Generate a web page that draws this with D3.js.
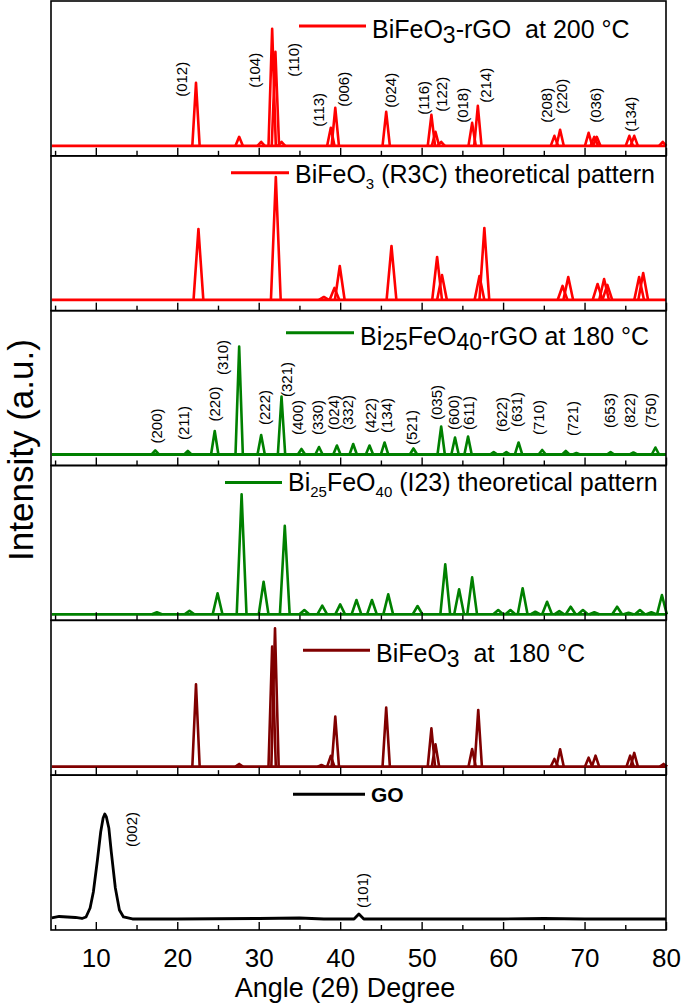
<!DOCTYPE html>
<html>
<head>
<meta charset="utf-8">
<title></title>
<script src="https://d3js.org/d3.v7.min.js"></script>
<style>
  body { margin: 0; background: #fff; }
  text { font-family: "Liberation Sans", Arial, sans-serif; }
</style>
</head>
<body>
<svg width="685" height="1004" id="chart"></svg>
<script>
// 2θ axis ticks
var majorTicks = [10, 20, 30, 40, 50, 60, 70, 80];
var minorTicks = [5, 15, 25, 35, 45, 55, 65, 75];

// peaks: [2θ, intensity]
var bfoRgoPeaks = [[22.3, 63], [27.6, 9], [30.3, 4], [31.65, 117], [32.05, 94], [32.8, 4],
  [38.85, 18], [39.4, 38], [45.65, 34], [51.2, 31], [51.7, 14], [52.4, 4], [56.2, 23],
  [56.9, 40], [66.3, 10], [67.0, 16], [70.5, 13], [71.2, 9], [71.5, 9], [75.5, 10],
  [76.1, 10], [79.6, 4]];
var bfoTheoryPeaks = [[22.6, 71], [32.1, 123], [38.0, 3], [39.3, 12], [39.95, 34], [46.3, 54],
  [51.9, 43], [52.5, 25], [57.1, 24], [57.7, 72], [67.3, 14], [68.0, 23], [71.6, 16],
  [72.4, 21], [72.8, 15], [76.7, 23], [77.2, 27]];
var sillRgoPeaks = [[17.3, 4], [21.3, 3.5], [24.6, 23.5], [27.6, 108], [30.3, 19.5], [32.8, 58],
  [35.25, 5.5], [37.4, 7.5], [39.6, 9], [41.6, 10.5], [43.6, 9], [45.45, 12], [49.0, 6],
  [52.4, 28], [54.1, 17], [55.7, 18], [58.85, 2.5], [60.4, 2.5], [61.9, 12], [64.8, 4.5],
  [67.7, 3.5], [69.0, 1.5], [73.2, 2.5], [76.0, 2], [78.7, 7]];
var sillTheoryPeaks = [[17.5, 2], [21.5, 3.6], [24.95, 21], [27.9, 120], [30.6, 32.6], [33.2, 88.6],
  [35.6, 4.3], [37.8, 8.6], [40.0, 10], [42.0, 14.3], [43.9, 14.3], [45.9, 20], [49.5, 8.3],
  [52.9, 50], [54.6, 25], [56.2, 37], [59.4, 4.3], [60.9, 4.3], [62.4, 26], [63.96, 2.6],
  [65.4, 12.6], [66.9, 3.3], [68.3, 7.6], [69.8, 4.3], [71.2, 2], [74.0, 7.6], [75.4, 1.6],
  [76.8, 4.3], [78.2, 2], [79.5, 19.3]];
var bfo180Peaks = [[22.3, 82.4], [27.6, 2.7], [31.65, 120], [32.0, 138.4], [37.7, 1.7], [38.85, 10.7],
  [39.4, 50], [45.65, 59], [51.2, 38.4], [51.7, 22.4], [56.2, 17.7], [56.95, 56.7], [66.3, 7.7],
  [67.0, 17.4], [70.5, 9], [71.35, 11], [75.6, 11], [76.1, 13.7], [79.7, 2.7]];
// GO pattern traced as points: [2θ, intensity]
var goCurve = [[4.6, 2], [5.5, 3.5], [6.5, 3], [7.5, 2.5], [8.3, 1.5], [8.8, 3], [9.3, 12], [9.7, 28],
  [10.2, 60], [10.6, 88], [10.9, 102], [11.1, 106], [11.3, 103], [11.6, 92], [11.9, 68], [12.4, 32],
  [12.9, 10], [13.4, 3], [14.5, 1], [20, 1], [30, 1.5], [35, 2], [38, 1], [41.7, 1], [42.3, 6],
  [42.9, 1], [50, 1], [60, 1], [65, 1.5], [70, 1], [80, 1]];

// Miller indices: [label, 2θ, height of label foot]
var bfoHkl = [["(012)", 20.47, 49], ["(104)", 29.5, 58], ["(110)", 34.28, 69], ["(113)", 37.4, 19],
  ["(006)", 40.35, 39], ["(024)", 46.15, 38], ["(116)", 50.27, 31], ["(122)", 52.4, 34],
  ["(018)", 55.0, 23], ["(214)", 57.9, 43], ["(208)", 65.3, 23], ["(220)", 67.15, 32],
  ["(036)", 71.3, 23], ["(134)", 75.63, 14]];
var sillHkl = [["(200)", 17.44, 11], ["(211)", 20.77, 14.5], ["(220)", 24.62, 33], ["(310)", 25.59, 79.5],
  ["(222)", 30.69, 29.5], ["(321)", 33.37, 57.5], ["(400)", 34.72, 19.5], ["(330)", 37.24, 19.5],
  ["(024)", 39.12, 24.5], ["(332)", 40.86, 24.5], ["(422)", 43.73, 21.5], ["(134)", 45.72, 21.5],
  ["(521)", 48.78, 9.5], ["(035)", 51.88, 34.5], ["(600)", 53.86, 24.5], ["(611)", 55.73, 24.5],
  ["(622)", 59.82, 22.5], ["(631)", 61.7, 27.5], ["(710)", 64.33, 19.5], ["(721)", 68.5, 18.5],
  ["(653)", 73.05, 26.5], ["(822)", 75.48, 26.5], ["(750)", 78.06, 26.5]];
var goHkl = [["(002)", 14.33, 73], ["(101)", 42.77, 12]];

// legend text pieces: [text, kind]
var legendBfoRgo = [["BiFeO", ""], ["3", "sub"], ["-rGO  at 200 °C", ""]];
var legendBfoTheory = [["BiFeO", ""], ["3", "small"], [" (R3C) theoretical pattern", ""]];
var legendSillRgo = [["Bi", ""], ["25", "sub"], ["FeO", ""], ["40", "sub"], ["-rGO at 180 °C", ""]];
var legendSillTheory = [["Bi", ""], ["25", "small"], ["FeO", ""], ["40", "small"], [" (I23) theoretical pattern", ""]];
var legendBfo180 = [["BiFeO", ""], ["3", "sub"], ["  at  180 °C", ""]];
var legendGo = [["GO", "bold"]];

var panels = [
  {peaks: bfoRgoPeaks, labels: bfoHkl, legend: legendBfoRgo, color: "#ff0000", yMin: -10, lx: 299, ly: 25, tx: 372, ty: 37, w: 0.45},
  {peaks: bfoTheoryPeaks, labels: [], legend: legendBfoTheory, color: "#ff0000", yMin: -10.7, lx: 231, ly: 17, tx: 295, ty: 27, w: 0.6},
  {peaks: sillRgoPeaks, labels: sillHkl, legend: legendSillRgo, color: "#008000", yMin: -11, lx: 286, ly: 22, tx: 360, ty: 34, w: 0.45},
  {peaks: sillTheoryPeaks, labels: [], legend: legendSillTheory, color: "#008000", yMin: -6, lx: 225, ly: 17, tx: 288, ty: 26, w: 0.6},
  {peaks: bfo180Peaks, labels: [], legend: legendBfo180, color: "#800000", yMin: -8.5, lx: 303, ly: 30, tx: 376, ty: 42, w: 0.45},
  {curve: goCurve, labels: goHkl, legend: legendGo, color: "#000000", yMin: -10, lx: 293, ly: 19, tx: 371, ty: 27}
];

var svg = d3.select("#chart"),
    left = 51, right = 666, top0 = 1, panelH = 154.83;

var x = d3.scaleLinear().domain([4.5, 80]).range([left, right]);

panels.forEach(function(p, i) {
  var top = top0 + i * panelH, bottom = top + panelH;
  var y = d3.scaleLinear().domain([p.yMin, p.yMin + panelH]).range([bottom, top]);
  var line = d3.line().x(function(d) { return x(d[0]); }).y(function(d) { return y(d[1]); });
  var g = svg.append("g");

  if (p.curve) {
    g.append("path").datum(p.curve)
      .attr("d", line)
      .attr("fill", "none").attr("stroke", p.color).attr("stroke-width", 2.8)
      .attr("stroke-linejoin", "round");
  } else {
    g.append("path").datum([[4.6, 0], [80, 0]])
      .attr("d", line)
      .attr("fill", "none").attr("stroke", p.color).attr("stroke-width", 2.8);
    g.selectAll(".peak")
      .data(p.peaks)
      .enter()
      .append("path")
      .attr("class", "peak")
      .attr("d", function(d) { return line([[d[0] - p.w, 0], [d[0], d[1]], [d[0] + p.w, 0]]); })
      .attr("fill", "none").attr("stroke", p.color).attr("stroke-width", 2.6)
      .attr("stroke-linejoin", "round");
  }

  g.selectAll(".hkl")
    .data(p.labels)
    .enter()
    .append("text")
    .attr("class", "hkl")
    .attr("transform", function(d) { return "translate(" + x(d[1]) + "," + y(d[2]) + ") rotate(-90)"; })
    .attr("dominant-baseline", "central")
    .attr("font-size", 15)
    .text(function(d) { return d[0]; });

  // major and minor ticks, inward
  var axisMajor = g.append("g")
    .attr("transform", "translate(0," + bottom + ")")
    .call(d3.axisBottom(x).tickValues(majorTicks).tickSize(-8).tickPadding(19)
      .tickFormat(i == panels.length - 1 ? d3.format("d") : function() { return ""; }));
  var axisMinor = g.append("g")
    .attr("transform", "translate(0," + bottom + ")")
    .call(d3.axisBottom(x).tickValues(minorTicks).tickSize(-5).tickFormat(function() { return ""; }));
  [axisMajor, axisMinor].forEach(function(a) {
    a.select(".domain").remove();
    a.selectAll("line").attr("stroke", "#000").attr("stroke-width", 1.4);
    a.selectAll("text").attr("font-size", 26).attr("fill", "#000")
      .style("font-family", "'Liberation Sans', Arial, sans-serif");
  });

  g.append("rect")
    .attr("x", left).attr("y", top)
    .attr("width", right - left).attr("height", panelH)
    .attr("fill", "none").attr("stroke", "#000").attr("stroke-width", 1.6);

  // legend
  g.append("line")
    .attr("x1", p.lx).attr("x2", p.tx - 6)
    .attr("y1", top + p.ly).attr("y2", top + p.ly)
    .attr("stroke", p.color).attr("stroke-width", 3);
  var t = g.append("text")
    .attr("x", p.tx).attr("y", top + p.ty)
    .attr("font-size", p.legend[0][1] == "bold" ? 21 : 25)
    .style("white-space", "pre");
  var shift = 0;
  p.legend.forEach(function(part) {
    var s = t.append("tspan").text(part[0]);
    var target = part[1] == "sub" ? 5 : part[1] == "small" ? 6 : 0;
    if (target != shift) s.attr("dy", target - shift);
    shift = target;
    if (part[1] == "sub") s.attr("font-size", 23);
    if (part[1] == "small") s.attr("font-size", 15);
    if (part[1] == "bold") s.attr("font-weight", "bold");
  });
});

svg.append("text")
  .attr("transform", "translate(33,450) rotate(-90)")
  .attr("text-anchor", "middle")
  .attr("font-size", 35)
  .text("Intensity (a.u.)");

svg.append("text")
  .attr("x", 345).attr("y", 997)
  .attr("text-anchor", "middle")
  .attr("font-size", 27)
  .text("Angle (2θ) Degree");
</script>
</body>
</html>
